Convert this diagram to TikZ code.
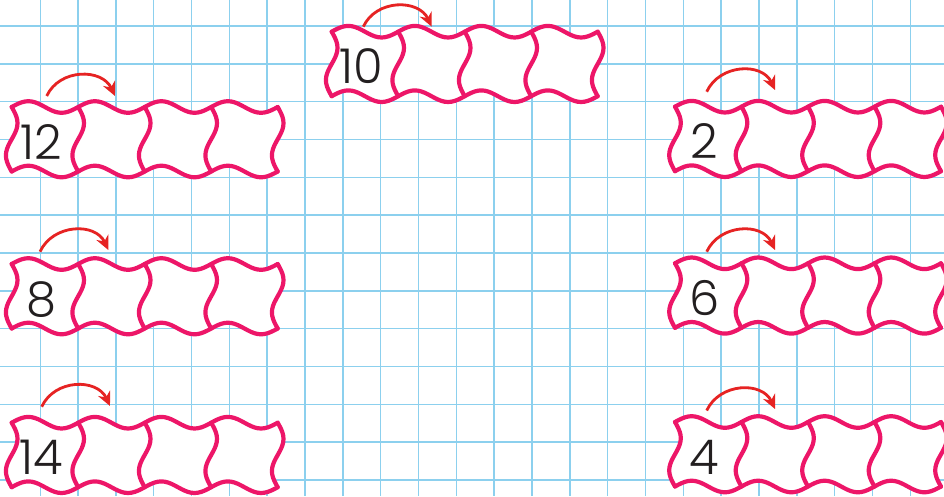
\documentclass[tikz,border=0pt]{standalone}
\usepackage{fontspec}
\newfontfamily\numfont{Poppins Light}
\usetikzlibrary{arrows.meta}
\definecolor{gridblue}{RGB}{140,208,238}
\definecolor{tilepink}{RGB}{237,22,104}
\definecolor{arrowred}{RGB}{230,35,35}
\definecolor{numink}{RGB}{35,31,32}
\newcommand\tileW{66.5}
\newcommand\tileH{64.5}
\newcommand\tileA{5.8}
\tikzset{
  gridline/.style={gridblue, line width=1.4pt},
  tileedge/.style={tilepink, line width=4.2pt, line join=round, line cap=round},
  hoparrow/.style={arrowred, line width=2.8pt, -{Stealth[length=14pt,width=13pt]}, out=65, in=115, looseness=1.15},
  numlabel/.style={font=\numfont\fontsize{48}{48}\selectfont, text=numink, anchor=base, inner sep=0pt},
}
% #1 x0, #2 y0, #3 name, #4 number
\newcommand\tilerow[4]{%
  \begin{scope}[shift={(#1,#2)}]
    \fill[white]
      plot[domain=0:4,samples=81,smooth] ({\tileW*\x},{-\tileA*sin(360*\x)})
      -- plot[domain=0:1,samples=21,smooth] ({4*\tileW+\tileA*sin(360*\x)},{\tileH*\x})
      -- plot[domain=4:0,samples=81,smooth] ({\tileW*\x},{\tileH-\tileA*sin(360*\x)})
      -- plot[domain=1:0,samples=21,smooth] ({\tileA*sin(360*\x)},{\tileH*\x})
      -- cycle;
    \draw[tileedge] plot[domain=0:4,samples=81,smooth] ({\tileW*\x},{-\tileA*sin(360*\x)});
    \draw[tileedge] plot[domain=0:4,samples=81,smooth] ({\tileW*\x},{\tileH-\tileA*sin(360*\x)});
    \foreach \k in {0,...,4}{
      \draw[tileedge] plot[domain=0:1,samples=21,smooth] ({\k*\tileW+\tileA*sin(360*\x)},{\tileH*\x});
    }
    \node[numlabel] (n#3) at (29.5,52) {#4};
  \end{scope}}
\begin{document}
\begin{tikzpicture}[x=1pt,y=-1pt]
  \useasboundingbox (0,0) rectangle (944,496);
  \fill[white] (0,0) rectangle (944,496);
  % grid
  \foreach \i in {0,...,23}{
    \draw[gridline] ({40.2+37.83*\i},0) -- ({40.2+37.83*\i},496);
  }
  \foreach \j in {0,...,12}{
    \draw[gridline] (0,{26+37.83*\j}) -- (944,{26+37.83*\j});
  }
  % tile rows
  \tilerow{331.7}{31.7}{10}{10}
  \tilerow{11.7}{107}{12}{12}
  \tilerow{11.7}{264}{8}{8}
  \tilerow{11.7}{422.7}{14}{14}
  \tilerow{675}{106.7}{2}{2}
  \tilerow{675}{263.3}{6}{6}
  \tilerow{675}{422}{4}{4}
  % arrows
  \coordinate (s10) at (363.3,26.7); \coordinate (e10) at (431.7,26.7);
  \coordinate (s12) at (46.7,96);    \coordinate (e12) at (115,96);
  \coordinate (s8)  at (40,251.7);   \coordinate (e8)  at (108.3,250);
  \coordinate (s14) at (41.7,406.7); \coordinate (e14) at (110,406);
  \coordinate (s2)  at (706.7,91.7); \coordinate (e2)  at (775,90);
  \coordinate (s6)  at (706.7,251.7);\coordinate (e6)  at (775,250);
  \coordinate (s4)  at (706.7,410.5);\coordinate (e4)  at (775,409);
  \foreach \r in {10,12,8,14,2,6,4}{
    \draw[hoparrow] (s\r) to (e\r);
  }
\end{tikzpicture}
\end{document}
